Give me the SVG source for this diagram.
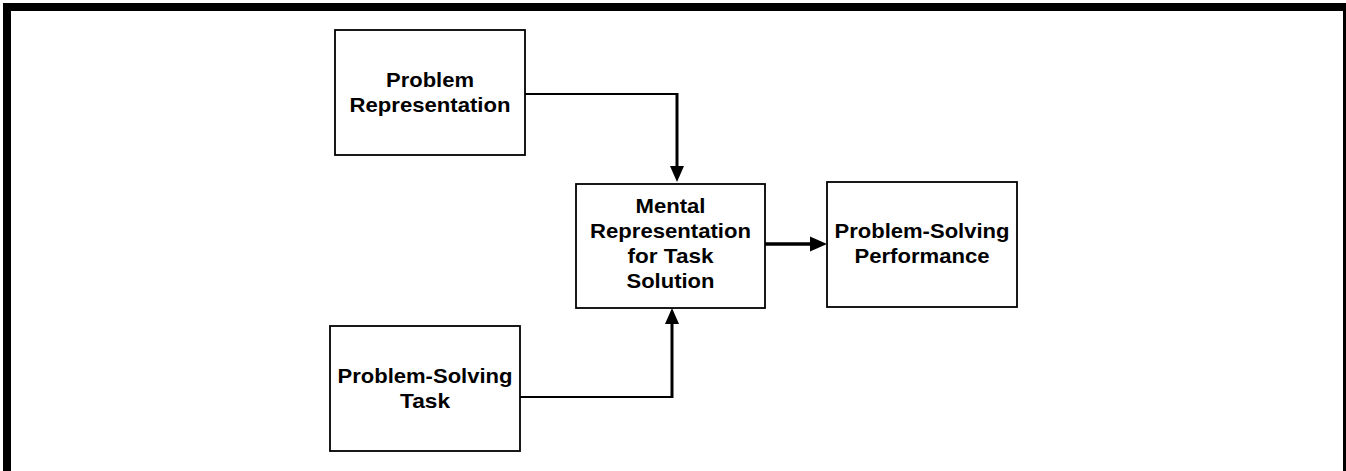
<svg xmlns="http://www.w3.org/2000/svg" width="1346" height="471" viewBox="0 0 1346 471">
<style>
.box{fill:#fff;stroke:#000;stroke-width:1.8}
.t{font-family:"Liberation Sans",Arial,sans-serif;font-weight:bold;font-size:21px;fill:#000;text-anchor:middle}
.ln{fill:none;stroke:#000}
.ah{fill:#000}
</style>
<rect x="0" y="0" width="1346" height="471" fill="#fff"/>
<rect x="7" y="7" width="1340" height="500" fill="none" stroke="#000" stroke-width="8"/>
<g id="connectors">
<path class="ln" d="M525,94 H677" stroke-width="2"/>
<path class="ln" d="M677,93 V168" stroke-width="3"/>
<polygon class="ah" points="670,166 684,166 677,182"/>
<path class="ln" d="M520,397 H672" stroke-width="2"/>
<path class="ln" d="M672,398 V322" stroke-width="3"/>
<polygon class="ah" points="665,324 679,324 672,308"/>
<path class="ln" d="M765,244 H812" stroke-width="3.5"/>
<polygon class="ah" points="810,236.5 810,251.5 827,244"/>
</g>
<g id="problem-representation">
<rect class="box" x="335" y="30" width="190" height="125"/>
<text class="t" x="430" y="87" textLength="88" lengthAdjust="spacingAndGlyphs">Problem</text>
<text class="t" x="430" y="112" textLength="161" lengthAdjust="spacingAndGlyphs">Representation</text>
</g>
<g id="problem-solving-task">
<rect class="box" x="330" y="326" width="190" height="125"/>
<text class="t" x="425" y="383" textLength="175" lengthAdjust="spacingAndGlyphs">Problem-Solving</text>
<text class="t" x="425" y="408" textLength="50" lengthAdjust="spacingAndGlyphs">Task</text>
</g>
<g id="mental-representation">
<rect class="box" x="576" y="184" width="189" height="124"/>
<text class="t" x="670.5" y="213" textLength="70" lengthAdjust="spacingAndGlyphs">Mental</text>
<text class="t" x="670.5" y="238" textLength="161" lengthAdjust="spacingAndGlyphs">Representation</text>
<text class="t" x="670.5" y="263" textLength="86" lengthAdjust="spacingAndGlyphs">for Task</text>
<text class="t" x="670.5" y="288" textLength="88" lengthAdjust="spacingAndGlyphs">Solution</text>
</g>
<g id="problem-solving-performance">
<rect class="box" x="827" y="182" width="190" height="125"/>
<text class="t" x="922" y="238" textLength="175" lengthAdjust="spacingAndGlyphs">Problem-Solving</text>
<text class="t" x="922" y="263" textLength="135" lengthAdjust="spacingAndGlyphs">Performance</text>
</g>
</svg>
